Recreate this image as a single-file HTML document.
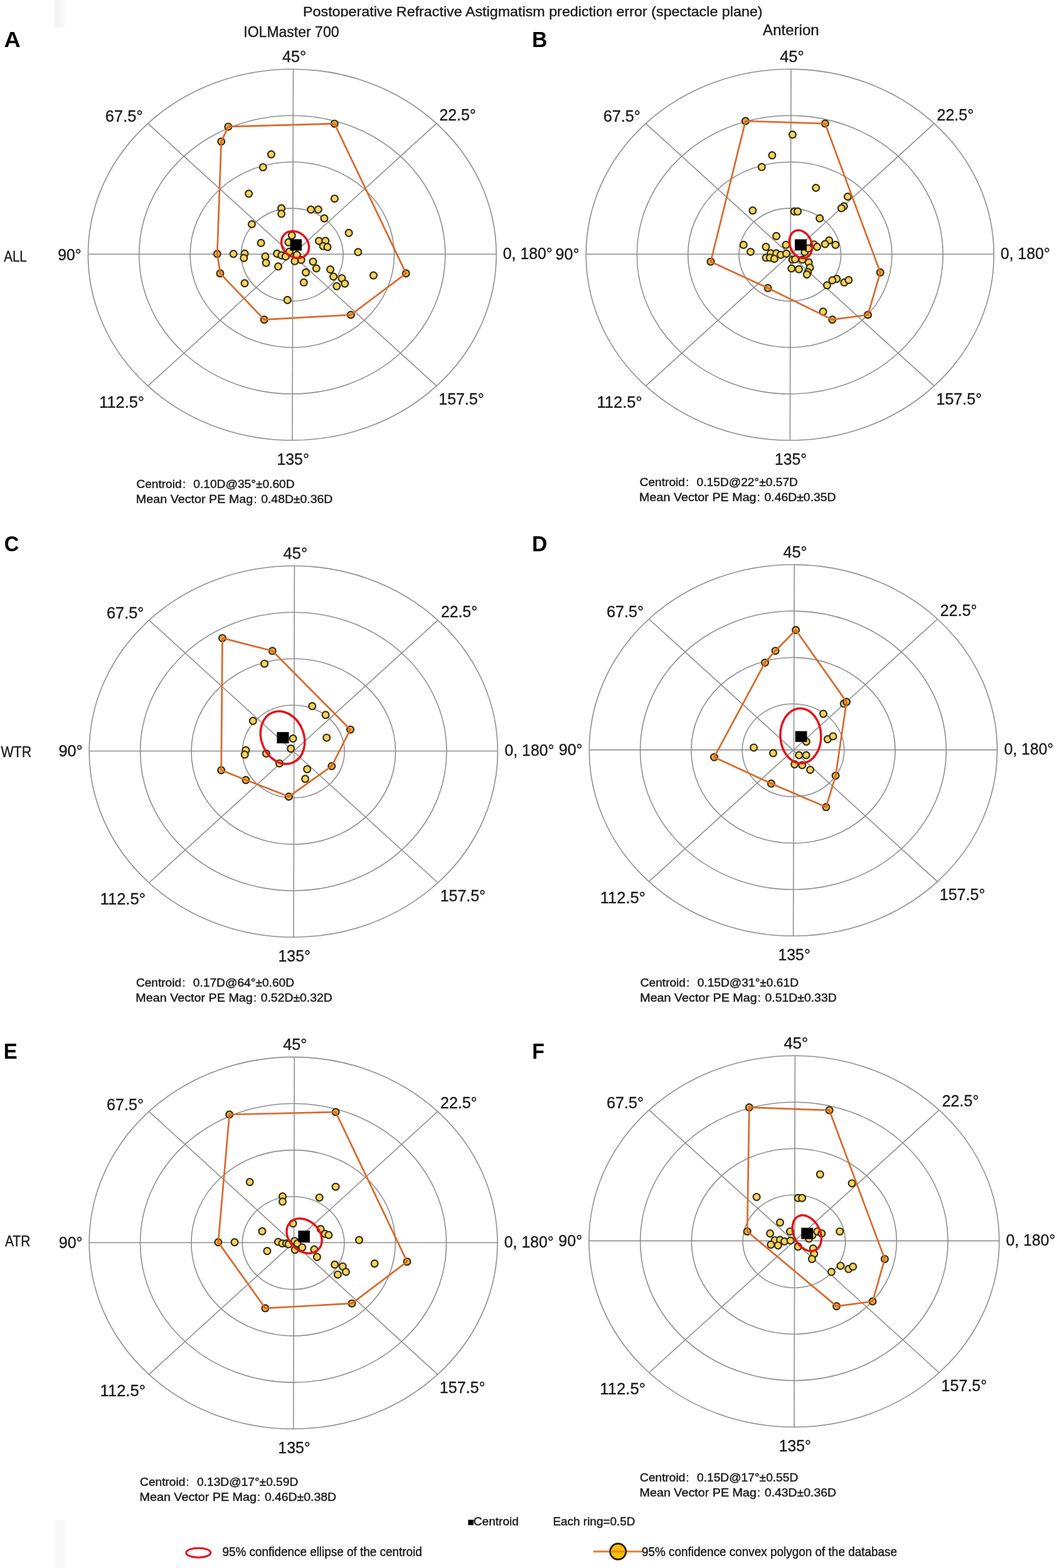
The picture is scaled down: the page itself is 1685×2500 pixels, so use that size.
<!DOCTYPE html><html><head><meta charset="utf-8"><style>html,body{margin:0;padding:0;background:#fff;overflow:hidden}svg{display:block}</style></head><body><svg width="1685" height="2500" viewBox="0 0 1685 2500">
<rect width="1685" height="2500" fill="#fff"/>
<rect x="86" y="0" width="17.3" height="43.8" fill="#f8f8f8"/>
<rect x="87.7" y="0" width="8" height="43.8" fill="#f3f3f3"/>
<rect x="88" y="2424" width="15.3" height="76" fill="#f8f8f8"/>
<g fill="none" stroke="#8f8f8f" stroke-width="1.6">
<ellipse cx="465.8" cy="406.1" rx="81.3" ry="74"/>
<ellipse cx="465.8" cy="406.1" rx="162.7" ry="147.9"/>
<ellipse cx="465.8" cy="406.1" rx="244" ry="221.9"/>
<ellipse cx="465.8" cy="406.1" rx="325.4" ry="295.9"/>
<line x1="140.4" y1="405.3" x2="791.2" y2="405.3"/>
<line x1="467.5" y1="110.2" x2="466" y2="702"/>
<line x1="235.7" y1="196.9" x2="695.9" y2="615.4"/>
<line x1="235.7" y1="615.4" x2="695.9" y2="196.9"/>
</g>
<g fill="#f6d45c" stroke="#332d12" stroke-width="2.15">
<circle cx="432.4" cy="246.1" r="5.45"/>
<circle cx="419.3" cy="266.7" r="5.45"/>
<circle cx="396.6" cy="308.8" r="5.45"/>
<circle cx="448.6" cy="332" r="5.45"/>
<circle cx="448.6" cy="340.8" r="5.45"/>
<circle cx="495.6" cy="334.1" r="5.45"/>
<circle cx="507.3" cy="334.1" r="5.45"/>
<circle cx="516.9" cy="348.1" r="5.45"/>
<circle cx="401.4" cy="357.5" r="5.45"/>
<circle cx="533.4" cy="316.7" r="5.45"/>
<circle cx="556.1" cy="371.4" r="5.45"/>
<circle cx="465.3" cy="375.3" r="5.45"/>
<circle cx="459.9" cy="386.4" r="5.45"/>
<circle cx="508.5" cy="384.2" r="5.45"/>
<circle cx="518.8" cy="384" r="5.45"/>
<circle cx="515.1" cy="392.3" r="5.45"/>
<circle cx="522" cy="393.9" r="5.45"/>
<circle cx="416.1" cy="387.4" r="5.45"/>
<circle cx="372.1" cy="404.8" r="5.45"/>
<circle cx="390" cy="404.4" r="5.45"/>
<circle cx="388.7" cy="411.4" r="5.45"/>
<circle cx="422.9" cy="408.9" r="5.45"/>
<circle cx="424.1" cy="419.1" r="5.45"/>
<circle cx="441.6" cy="404.4" r="5.45"/>
<circle cx="448.8" cy="407.1" r="5.45"/>
<circle cx="455.3" cy="409" r="5.45"/>
<circle cx="461.4" cy="401.3" r="5.45"/>
<circle cx="473.3" cy="406.3" r="5.45"/>
<circle cx="480.2" cy="414.3" r="5.45"/>
<circle cx="469.9" cy="416.3" r="5.45"/>
<circle cx="443.5" cy="424.8" r="5.45"/>
<circle cx="499" cy="417.2" r="5.45"/>
<circle cx="504.3" cy="428" r="5.45"/>
<circle cx="487.5" cy="434.4" r="5.45"/>
<circle cx="484.3" cy="450.3" r="5.45"/>
<circle cx="526.6" cy="429.6" r="5.45"/>
<circle cx="531.6" cy="441" r="5.45"/>
<circle cx="544.9" cy="443.6" r="5.45"/>
<circle cx="549.7" cy="452.2" r="5.45"/>
<circle cx="536.7" cy="456.3" r="5.45"/>
<circle cx="570.8" cy="401.9" r="5.45"/>
<circle cx="595.4" cy="439.1" r="5.45"/>
<circle cx="390" cy="451.6" r="5.45"/>
<circle cx="458.2" cy="478.4" r="5.45"/>
</g>
<g fill="#f0ad42" stroke="#332d12" stroke-width="2.15">
<circle cx="363.8" cy="201.9" r="5.45"/>
<circle cx="533.2" cy="197.2" r="5.45"/>
<circle cx="647.3" cy="435.9" r="5.45"/>
<circle cx="559.3" cy="502" r="5.45"/>
<circle cx="421.2" cy="509.6" r="5.45"/>
<circle cx="351" cy="435.9" r="5.45"/>
<circle cx="346.3" cy="404.8" r="5.45"/>
<circle cx="352.7" cy="225.7" r="5.45"/>
</g>
<polygon points="363.8,201.9 533.2,197.2 647.3,435.9 559.3,502 421.2,509.6 351,435.9 346.3,404.8 352.7,225.7" fill="none" stroke="#d9692a" stroke-width="2.7" stroke-linejoin="round"/>
<ellipse cx="0" cy="0" rx="23.8" ry="19.6" transform="translate(470.6 390) rotate(42)" fill="none" stroke="#e3141b" stroke-width="3.5"/>
<rect x="462.6" y="381.4" width="18.5" height="18.2" fill="#000"/>
<text x="449.9" y="98.5" font-size="24.9" font-family="Liberation Sans, Arial, sans-serif" fill="#1a1a1a" textLength="38.2" lengthAdjust="spacingAndGlyphs" stroke="#1a1a1a" stroke-width="0.35">45°</text>
<text x="441.4" y="740.8" font-size="24.9" font-family="Liberation Sans, Arial, sans-serif" fill="#1a1a1a" textLength="51.5" lengthAdjust="spacingAndGlyphs" stroke="#1a1a1a" stroke-width="0.35">135°</text>
<text x="167.8" y="194.4" font-size="24.9" font-family="Liberation Sans, Arial, sans-serif" fill="#1a1a1a" textLength="59.8" lengthAdjust="spacingAndGlyphs" stroke="#1a1a1a" stroke-width="0.35">67.5°</text>
<text x="700.5" y="191.5" font-size="24.9" font-family="Liberation Sans, Arial, sans-serif" fill="#1a1a1a" textLength="58.2" lengthAdjust="spacingAndGlyphs" stroke="#1a1a1a" stroke-width="0.35">22.5°</text>
<text x="158.2" y="650" font-size="24.9" font-family="Liberation Sans, Arial, sans-serif" fill="#1a1a1a" textLength="71.8" lengthAdjust="spacingAndGlyphs" stroke="#1a1a1a" stroke-width="0.35">112.5°</text>
<text x="699.3" y="645.2" font-size="24.9" font-family="Liberation Sans, Arial, sans-serif" fill="#1a1a1a" textLength="72.3" lengthAdjust="spacingAndGlyphs" stroke="#1a1a1a" stroke-width="0.35">157.5°</text>
<text x="92.2" y="414.5" font-size="24.9" font-family="Liberation Sans, Arial, sans-serif" fill="#1a1a1a" textLength="37.4" lengthAdjust="spacingAndGlyphs" stroke="#1a1a1a" stroke-width="0.35">90°</text>
<text x="801.8" y="412.8" font-size="24.9" font-family="Liberation Sans, Arial, sans-serif" fill="#1a1a1a" textLength="79" lengthAdjust="spacingAndGlyphs" stroke="#1a1a1a" stroke-width="0.35">0, 180°</text>
<text x="217.4" y="777.5" font-size="18.3" font-family="Liberation Sans, Arial, sans-serif" fill="#1a1a1a" textLength="72.2" lengthAdjust="spacingAndGlyphs" stroke="#1a1a1a" stroke-width="0.42">Centroid</text>
<text x="290.9" y="777.5" font-size="18.3" font-family="Liberation Sans, Arial, sans-serif" fill="#1a1a1a" stroke="#1a1a1a" stroke-width="0.3">:</text>
<text x="308.3" y="777.5" font-size="18.3" font-family="Liberation Sans, Arial, sans-serif" fill="#1a1a1a" textLength="161.3" lengthAdjust="spacingAndGlyphs" stroke="#1a1a1a" stroke-width="0.42">0.10D@35°±0.60D</text>
<text x="216.8" y="801.7" font-size="18.3" font-family="Liberation Sans, Arial, sans-serif" fill="#1a1a1a" textLength="186.5" lengthAdjust="spacingAndGlyphs" stroke="#1a1a1a" stroke-width="0.42">Mean Vector PE Mag</text>
<text x="404.4" y="801.7" font-size="18.3" font-family="Liberation Sans, Arial, sans-serif" fill="#1a1a1a" stroke="#1a1a1a" stroke-width="0.3">:</text>
<text x="416.2" y="801.7" font-size="18.3" font-family="Liberation Sans, Arial, sans-serif" fill="#1a1a1a" textLength="114.1" lengthAdjust="spacingAndGlyphs" stroke="#1a1a1a" stroke-width="0.42">0.48D±0.36D</text>
<g fill="none" stroke="#8f8f8f" stroke-width="1.6">
<ellipse cx="1259.3" cy="406.1" rx="81.3" ry="74"/>
<ellipse cx="1259.3" cy="406.1" rx="162.6" ry="147.9"/>
<ellipse cx="1259.3" cy="406.1" rx="243.9" ry="221.9"/>
<ellipse cx="1259.3" cy="406.1" rx="325.1" ry="295.9"/>
<line x1="934.2" y1="405.3" x2="1584.5" y2="405.3"/>
<line x1="1261" y1="110.2" x2="1259.4" y2="702"/>
<line x1="1029.4" y1="196.9" x2="1489.3" y2="615.4"/>
<line x1="1029.4" y1="615.4" x2="1489.3" y2="196.9"/>
</g>
<g fill="#f6d45c" stroke="#332d12" stroke-width="2.15">
<circle cx="1263.4" cy="214.6" r="5.45"/>
<circle cx="1230.9" cy="247.6" r="5.45"/>
<circle cx="1214.3" cy="266.3" r="5.45"/>
<circle cx="1300.7" cy="299.5" r="5.45"/>
<circle cx="1199.9" cy="335.6" r="5.45"/>
<circle cx="1266.3" cy="337.1" r="5.45"/>
<circle cx="1271.6" cy="337.1" r="5.45"/>
<circle cx="1306.7" cy="348.1" r="5.45"/>
<circle cx="1351.4" cy="313.5" r="5.45"/>
<circle cx="1345.3" cy="328.8" r="5.45"/>
<circle cx="1341.4" cy="332" r="5.45"/>
<circle cx="1237.6" cy="376.4" r="5.45"/>
<circle cx="1185.3" cy="390.4" r="5.45"/>
<circle cx="1221" cy="393.6" r="5.45"/>
<circle cx="1196.5" cy="401.5" r="5.45"/>
<circle cx="1252.9" cy="390.4" r="5.45"/>
<circle cx="1228.6" cy="403.8" r="5.45"/>
<circle cx="1237.6" cy="403.8" r="5.45"/>
<circle cx="1244.6" cy="406.3" r="5.45"/>
<circle cx="1253.5" cy="404.4" r="5.45"/>
<circle cx="1221" cy="410.8" r="5.45"/>
<circle cx="1227.3" cy="410.8" r="5.45"/>
<circle cx="1234.4" cy="412.7" r="5.45"/>
<circle cx="1263.1" cy="414" r="5.45"/>
<circle cx="1267.5" cy="413.3" r="5.45"/>
<circle cx="1279" cy="414" r="5.45"/>
<circle cx="1282.8" cy="401.9" r="5.45"/>
<circle cx="1288.6" cy="396.1" r="5.45"/>
<circle cx="1297.5" cy="389.7" r="5.45"/>
<circle cx="1302.6" cy="393.6" r="5.45"/>
<circle cx="1289.2" cy="418.4" r="5.45"/>
<circle cx="1291.1" cy="426.7" r="5.45"/>
<circle cx="1287.9" cy="433.8" r="5.45"/>
<circle cx="1286.3" cy="437.6" r="5.45"/>
<circle cx="1261.8" cy="428" r="5.45"/>
<circle cx="1273.5" cy="429.3" r="5.45"/>
<circle cx="1321.7" cy="383.4" r="5.45"/>
<circle cx="1315.3" cy="389.1" r="5.45"/>
<circle cx="1331.9" cy="390.4" r="5.45"/>
<circle cx="1333.8" cy="444.6" r="5.45"/>
<circle cx="1326.8" cy="446.9" r="5.45"/>
<circle cx="1318.5" cy="454.8" r="5.45"/>
<circle cx="1345.9" cy="450.3" r="5.45"/>
<circle cx="1352.9" cy="446.5" r="5.45"/>
<circle cx="1312.1" cy="496.9" r="5.45"/>
</g>
<g fill="#f0ad42" stroke="#332d12" stroke-width="2.15">
<circle cx="1188.4" cy="193" r="5.45"/>
<circle cx="1315.3" cy="197" r="5.45"/>
<circle cx="1403.3" cy="434.4" r="5.45"/>
<circle cx="1383.5" cy="502" r="5.45"/>
<circle cx="1326.8" cy="509.6" r="5.45"/>
<circle cx="1224.2" cy="459.3" r="5.45"/>
<circle cx="1133" cy="417.2" r="5.45"/>
</g>
<polygon points="1188.4,193 1315.3,197 1403.3,434.4 1383.5,502 1326.8,509.6 1224.2,459.3 1133,417.2" fill="none" stroke="#d9692a" stroke-width="2.7" stroke-linejoin="round"/>
<ellipse cx="0" cy="0" rx="23" ry="17.2" transform="translate(1276.5 389.4) rotate(67.3)" fill="none" stroke="#e3141b" stroke-width="3.5"/>
<rect x="1267.1" y="381.5" width="18.9" height="17.8" fill="#000"/>
<text x="1243.2" y="98.6" font-size="24.9" font-family="Liberation Sans, Arial, sans-serif" fill="#1a1a1a" textLength="38.5" lengthAdjust="spacingAndGlyphs" stroke="#1a1a1a" stroke-width="0.35">45°</text>
<text x="1234.9" y="740.8" font-size="24.9" font-family="Liberation Sans, Arial, sans-serif" fill="#1a1a1a" textLength="51.2" lengthAdjust="spacingAndGlyphs" stroke="#1a1a1a" stroke-width="0.35">135°</text>
<text x="961.7" y="194.4" font-size="24.9" font-family="Liberation Sans, Arial, sans-serif" fill="#1a1a1a" textLength="59.2" lengthAdjust="spacingAndGlyphs" stroke="#1a1a1a" stroke-width="0.35">67.5°</text>
<text x="1493.5" y="191.5" font-size="24.9" font-family="Liberation Sans, Arial, sans-serif" fill="#1a1a1a" textLength="58.8" lengthAdjust="spacingAndGlyphs" stroke="#1a1a1a" stroke-width="0.35">22.5°</text>
<text x="951.5" y="650" font-size="24.9" font-family="Liberation Sans, Arial, sans-serif" fill="#1a1a1a" textLength="72.3" lengthAdjust="spacingAndGlyphs" stroke="#1a1a1a" stroke-width="0.35">112.5°</text>
<text x="1492.5" y="645.2" font-size="24.9" font-family="Liberation Sans, Arial, sans-serif" fill="#1a1a1a" textLength="72.7" lengthAdjust="spacingAndGlyphs" stroke="#1a1a1a" stroke-width="0.35">157.5°</text>
<text x="885.5" y="414.4" font-size="24.9" font-family="Liberation Sans, Arial, sans-serif" fill="#1a1a1a" textLength="37.9" lengthAdjust="spacingAndGlyphs" stroke="#1a1a1a" stroke-width="0.35">90°</text>
<text x="1595" y="412.8" font-size="24.9" font-family="Liberation Sans, Arial, sans-serif" fill="#1a1a1a" textLength="79" lengthAdjust="spacingAndGlyphs" stroke="#1a1a1a" stroke-width="0.35">0, 180°</text>
<text x="1019.7" y="775.3" font-size="18.3" font-family="Liberation Sans, Arial, sans-serif" fill="#1a1a1a" textLength="72.2" lengthAdjust="spacingAndGlyphs" stroke="#1a1a1a" stroke-width="0.42">Centroid</text>
<text x="1093.2" y="775.3" font-size="18.3" font-family="Liberation Sans, Arial, sans-serif" fill="#1a1a1a" stroke="#1a1a1a" stroke-width="0.3">:</text>
<text x="1110.6" y="775.3" font-size="18.3" font-family="Liberation Sans, Arial, sans-serif" fill="#1a1a1a" textLength="161.3" lengthAdjust="spacingAndGlyphs" stroke="#1a1a1a" stroke-width="0.42">0.15D@22°±0.57D</text>
<text x="1019.1" y="799.4" font-size="18.3" font-family="Liberation Sans, Arial, sans-serif" fill="#1a1a1a" textLength="186.5" lengthAdjust="spacingAndGlyphs" stroke="#1a1a1a" stroke-width="0.42">Mean Vector PE Mag</text>
<text x="1206.7" y="799.4" font-size="18.3" font-family="Liberation Sans, Arial, sans-serif" fill="#1a1a1a" stroke="#1a1a1a" stroke-width="0.3">:</text>
<text x="1218.5" y="799.4" font-size="18.3" font-family="Liberation Sans, Arial, sans-serif" fill="#1a1a1a" textLength="114.1" lengthAdjust="spacingAndGlyphs" stroke="#1a1a1a" stroke-width="0.42">0.46D±0.35D</text>
<g fill="none" stroke="#8f8f8f" stroke-width="1.6">
<ellipse cx="467.8" cy="1198.2" rx="81.4" ry="74"/>
<ellipse cx="467.8" cy="1198.2" rx="162.8" ry="148"/>
<ellipse cx="467.8" cy="1198.2" rx="244.2" ry="222"/>
<ellipse cx="467.8" cy="1198.2" rx="325.6" ry="296"/>
<line x1="142.2" y1="1197.5" x2="793.4" y2="1197.5"/>
<line x1="469.4" y1="902.2" x2="468" y2="1494.2"/>
<line x1="237.6" y1="988.8" x2="698" y2="1407.5"/>
<line x1="237.6" y1="1407.5" x2="698" y2="988.8"/>
</g>
<g fill="#f6d45c" stroke="#332d12" stroke-width="2.15">
<circle cx="421.6" cy="1058.2" r="5.45"/>
<circle cx="497.7" cy="1125.8" r="5.45"/>
<circle cx="519.1" cy="1139.8" r="5.45"/>
<circle cx="403.3" cy="1149.3" r="5.45"/>
<circle cx="520.7" cy="1176.2" r="5.45"/>
<circle cx="467.1" cy="1177.5" r="5.45"/>
<circle cx="463.7" cy="1193.6" r="5.45"/>
<circle cx="391.9" cy="1196.1" r="5.45"/>
<circle cx="390.2" cy="1203.1" r="5.45"/>
<circle cx="424.4" cy="1201.5" r="5.45"/>
<circle cx="445.4" cy="1217.2" r="5.45"/>
<circle cx="489.7" cy="1226.4" r="5.45"/>
<circle cx="486.6" cy="1241.8" r="5.45"/>
</g>
<g fill="#f0ad42" stroke="#332d12" stroke-width="2.15">
<circle cx="354.5" cy="1017.4" r="5.45"/>
<circle cx="434.3" cy="1037.8" r="5.45"/>
<circle cx="558.5" cy="1163.2" r="5.45"/>
<circle cx="528.8" cy="1221.5" r="5.45"/>
<circle cx="460.4" cy="1270.1" r="5.45"/>
<circle cx="391.9" cy="1243.6" r="5.45"/>
<circle cx="352.7" cy="1228" r="5.45"/>
</g>
<polygon points="354.5,1017.4 434.3,1037.8 558.5,1163.2 528.8,1221.5 460.4,1270.1 391.9,1243.6 352.7,1228" fill="none" stroke="#d9692a" stroke-width="2.7" stroke-linejoin="round"/>
<ellipse cx="0" cy="0" rx="43.1" ry="33.9" transform="translate(450.5 1176) rotate(68.6)" fill="none" stroke="#e3141b" stroke-width="3.5"/>
<rect x="441.4" y="1167.2" width="19.1" height="18" fill="#000"/>
<text x="451.6" y="890.6" font-size="24.9" font-family="Liberation Sans, Arial, sans-serif" fill="#1a1a1a" textLength="38.5" lengthAdjust="spacingAndGlyphs" stroke="#1a1a1a" stroke-width="0.35">45°</text>
<text x="443.6" y="1532.7" font-size="24.9" font-family="Liberation Sans, Arial, sans-serif" fill="#1a1a1a" textLength="51.2" lengthAdjust="spacingAndGlyphs" stroke="#1a1a1a" stroke-width="0.35">135°</text>
<text x="169.9" y="986.4" font-size="24.9" font-family="Liberation Sans, Arial, sans-serif" fill="#1a1a1a" textLength="59.6" lengthAdjust="spacingAndGlyphs" stroke="#1a1a1a" stroke-width="0.35">67.5°</text>
<text x="702.9" y="983.6" font-size="24.9" font-family="Liberation Sans, Arial, sans-serif" fill="#1a1a1a" textLength="58.2" lengthAdjust="spacingAndGlyphs" stroke="#1a1a1a" stroke-width="0.35">22.5°</text>
<text x="159.6" y="1441.9" font-size="24.9" font-family="Liberation Sans, Arial, sans-serif" fill="#1a1a1a" textLength="72.3" lengthAdjust="spacingAndGlyphs" stroke="#1a1a1a" stroke-width="0.35">112.5°</text>
<text x="701.7" y="1437.1" font-size="24.9" font-family="Liberation Sans, Arial, sans-serif" fill="#1a1a1a" textLength="72.3" lengthAdjust="spacingAndGlyphs" stroke="#1a1a1a" stroke-width="0.35">157.5°</text>
<text x="93.4" y="1206.4" font-size="24.9" font-family="Liberation Sans, Arial, sans-serif" fill="#1a1a1a" textLength="38.2" lengthAdjust="spacingAndGlyphs" stroke="#1a1a1a" stroke-width="0.35">90°</text>
<text x="804.5" y="1204.6" font-size="24.9" font-family="Liberation Sans, Arial, sans-serif" fill="#1a1a1a" textLength="79" lengthAdjust="spacingAndGlyphs" stroke="#1a1a1a" stroke-width="0.35">0, 180°</text>
<text x="216.9" y="1572.5" font-size="18.3" font-family="Liberation Sans, Arial, sans-serif" fill="#1a1a1a" textLength="72.2" lengthAdjust="spacingAndGlyphs" stroke="#1a1a1a" stroke-width="0.42">Centroid</text>
<text x="290.4" y="1572.5" font-size="18.3" font-family="Liberation Sans, Arial, sans-serif" fill="#1a1a1a" stroke="#1a1a1a" stroke-width="0.3">:</text>
<text x="307.8" y="1572.5" font-size="18.3" font-family="Liberation Sans, Arial, sans-serif" fill="#1a1a1a" textLength="161.3" lengthAdjust="spacingAndGlyphs" stroke="#1a1a1a" stroke-width="0.42">0.17D@64°±0.60D</text>
<text x="216.3" y="1596.7" font-size="18.3" font-family="Liberation Sans, Arial, sans-serif" fill="#1a1a1a" textLength="186.5" lengthAdjust="spacingAndGlyphs" stroke="#1a1a1a" stroke-width="0.42">Mean Vector PE Mag</text>
<text x="403.9" y="1596.7" font-size="18.3" font-family="Liberation Sans, Arial, sans-serif" fill="#1a1a1a" stroke="#1a1a1a" stroke-width="0.3">:</text>
<text x="415.7" y="1596.7" font-size="18.3" font-family="Liberation Sans, Arial, sans-serif" fill="#1a1a1a" textLength="114.1" lengthAdjust="spacingAndGlyphs" stroke="#1a1a1a" stroke-width="0.42">0.52D±0.32D</text>
<g fill="none" stroke="#8f8f8f" stroke-width="1.6">
<ellipse cx="1264.5" cy="1196.3" rx="81.3" ry="74"/>
<ellipse cx="1264.5" cy="1196.3" rx="162.6" ry="148"/>
<ellipse cx="1264.5" cy="1196.3" rx="243.9" ry="222"/>
<ellipse cx="1264.5" cy="1196.3" rx="325.2" ry="296"/>
<line x1="939.2" y1="1195.6" x2="1589.7" y2="1195.6"/>
<line x1="1266.3" y1="900.3" x2="1264.6" y2="1492.3"/>
<line x1="1034.5" y1="987" x2="1494.4" y2="1405.6"/>
<line x1="1034.5" y1="1405.6" x2="1494.4" y2="987"/>
</g>
<g fill="#f6d45c" stroke="#332d12" stroke-width="2.15">
<circle cx="1312.5" cy="1138.1" r="5.45"/>
<circle cx="1201.6" cy="1191.9" r="5.45"/>
<circle cx="1232.5" cy="1200.8" r="5.45"/>
<circle cx="1285.4" cy="1182.4" r="5.45"/>
<circle cx="1273.7" cy="1204" r="5.45"/>
<circle cx="1285.1" cy="1204" r="5.45"/>
<circle cx="1266.7" cy="1218.6" r="5.45"/>
<circle cx="1278.7" cy="1220" r="5.45"/>
<circle cx="1291.6" cy="1227.4" r="5.45"/>
<circle cx="1319.4" cy="1178.6" r="5.45"/>
<circle cx="1328" cy="1173.9" r="5.45"/>
<circle cx="1345.2" cy="1121.8" r="5.45"/>
</g>
<g fill="#f0ad42" stroke="#332d12" stroke-width="2.15">
<circle cx="1268.6" cy="1004.5" r="5.45"/>
<circle cx="1349.5" cy="1119.1" r="5.45"/>
<circle cx="1332.1" cy="1236.7" r="5.45"/>
<circle cx="1316.9" cy="1286.8" r="5.45"/>
<circle cx="1229.4" cy="1249.3" r="5.45"/>
<circle cx="1138.5" cy="1207.2" r="5.45"/>
<circle cx="1219.5" cy="1056.5" r="5.45"/>
<circle cx="1236.1" cy="1037.7" r="5.45"/>
</g>
<polygon points="1268.6,1004.5 1349.5,1119.1 1332.1,1236.7 1316.9,1286.8 1229.4,1249.3 1138.5,1207.2 1219.5,1056.5 1236.1,1037.7" fill="none" stroke="#d9692a" stroke-width="2.7" stroke-linejoin="round"/>
<ellipse cx="0" cy="0" rx="32.4" ry="43.8" transform="translate(1276.4 1173.2) rotate(-2)" fill="none" stroke="#e3141b" stroke-width="3.5"/>
<rect x="1267.7" y="1165.7" width="18.8" height="17.2" fill="#000"/>
<text x="1248.5" y="888.6" font-size="24.9" font-family="Liberation Sans, Arial, sans-serif" fill="#1a1a1a" textLength="38.2" lengthAdjust="spacingAndGlyphs" stroke="#1a1a1a" stroke-width="0.35">45°</text>
<text x="1240.5" y="1531.1" font-size="24.9" font-family="Liberation Sans, Arial, sans-serif" fill="#1a1a1a" textLength="51.3" lengthAdjust="spacingAndGlyphs" stroke="#1a1a1a" stroke-width="0.35">135°</text>
<text x="966.9" y="984.4" font-size="24.9" font-family="Liberation Sans, Arial, sans-serif" fill="#1a1a1a" textLength="59.3" lengthAdjust="spacingAndGlyphs" stroke="#1a1a1a" stroke-width="0.35">67.5°</text>
<text x="1498.8" y="981.5" font-size="24.9" font-family="Liberation Sans, Arial, sans-serif" fill="#1a1a1a" textLength="58.8" lengthAdjust="spacingAndGlyphs" stroke="#1a1a1a" stroke-width="0.35">22.5°</text>
<text x="956.8" y="1440" font-size="24.9" font-family="Liberation Sans, Arial, sans-serif" fill="#1a1a1a" textLength="72.2" lengthAdjust="spacingAndGlyphs" stroke="#1a1a1a" stroke-width="0.35">112.5°</text>
<text x="1497.7" y="1435.2" font-size="24.9" font-family="Liberation Sans, Arial, sans-serif" fill="#1a1a1a" textLength="72.8" lengthAdjust="spacingAndGlyphs" stroke="#1a1a1a" stroke-width="0.35">157.5°</text>
<text x="890.7" y="1204.3" font-size="24.9" font-family="Liberation Sans, Arial, sans-serif" fill="#1a1a1a" textLength="37.9" lengthAdjust="spacingAndGlyphs" stroke="#1a1a1a" stroke-width="0.35">90°</text>
<text x="1600.7" y="1202.7" font-size="24.9" font-family="Liberation Sans, Arial, sans-serif" fill="#1a1a1a" textLength="78.7" lengthAdjust="spacingAndGlyphs" stroke="#1a1a1a" stroke-width="0.35">0, 180°</text>
<text x="1020.8" y="1572.5" font-size="18.3" font-family="Liberation Sans, Arial, sans-serif" fill="#1a1a1a" textLength="72.2" lengthAdjust="spacingAndGlyphs" stroke="#1a1a1a" stroke-width="0.42">Centroid</text>
<text x="1094.3" y="1572.5" font-size="18.3" font-family="Liberation Sans, Arial, sans-serif" fill="#1a1a1a" stroke="#1a1a1a" stroke-width="0.3">:</text>
<text x="1111.7" y="1572.5" font-size="18.3" font-family="Liberation Sans, Arial, sans-serif" fill="#1a1a1a" textLength="161.3" lengthAdjust="spacingAndGlyphs" stroke="#1a1a1a" stroke-width="0.42">0.15D@31°±0.61D</text>
<text x="1020.2" y="1596.7" font-size="18.3" font-family="Liberation Sans, Arial, sans-serif" fill="#1a1a1a" textLength="186.5" lengthAdjust="spacingAndGlyphs" stroke="#1a1a1a" stroke-width="0.42">Mean Vector PE Mag</text>
<text x="1207.8" y="1596.7" font-size="18.3" font-family="Liberation Sans, Arial, sans-serif" fill="#1a1a1a" stroke="#1a1a1a" stroke-width="0.3">:</text>
<text x="1219.6" y="1596.7" font-size="18.3" font-family="Liberation Sans, Arial, sans-serif" fill="#1a1a1a" textLength="114.1" lengthAdjust="spacingAndGlyphs" stroke="#1a1a1a" stroke-width="0.42">0.51D±0.33D</text>
<g fill="none" stroke="#8f8f8f" stroke-width="1.6">
<ellipse cx="467.6" cy="1981.8" rx="81.3" ry="74.1"/>
<ellipse cx="467.6" cy="1981.8" rx="162.7" ry="148.2"/>
<ellipse cx="467.6" cy="1981.8" rx="244" ry="222.3"/>
<ellipse cx="467.6" cy="1981.8" rx="325.4" ry="296.4"/>
<line x1="142.2" y1="1981.2" x2="793" y2="1981.2"/>
<line x1="469.3" y1="1685.4" x2="467.8" y2="2278.1"/>
<line x1="237.5" y1="1772.2" x2="697.7" y2="2191.3"/>
<line x1="237.5" y1="2191.3" x2="697.7" y2="1772.2"/>
</g>
<g fill="#f6d45c" stroke="#332d12" stroke-width="2.15">
<circle cx="398.2" cy="1884.6" r="5.45"/>
<circle cx="450.5" cy="1907.5" r="5.45"/>
<circle cx="450.5" cy="1915.8" r="5.45"/>
<circle cx="509.2" cy="1909.4" r="5.45"/>
<circle cx="535.1" cy="1892.2" r="5.45"/>
<circle cx="374" cy="1980.6" r="5.45"/>
<circle cx="418" cy="1963.1" r="5.45"/>
<circle cx="425.9" cy="1994.6" r="5.45"/>
<circle cx="443.5" cy="1980" r="5.45"/>
<circle cx="449.9" cy="1982.5" r="5.45"/>
<circle cx="456.3" cy="1982.5" r="5.45"/>
<circle cx="460.1" cy="1983.8" r="5.45"/>
<circle cx="467.1" cy="1950.6" r="5.45"/>
<circle cx="469.7" cy="1978.7" r="5.45"/>
<circle cx="474.1" cy="1982.5" r="5.45"/>
<circle cx="481.8" cy="1988.9" r="5.45"/>
<circle cx="470.3" cy="1992.7" r="5.45"/>
<circle cx="500.9" cy="1992.1" r="5.45"/>
<circle cx="505.4" cy="2004.2" r="5.45"/>
<circle cx="511.1" cy="1959.5" r="5.45"/>
<circle cx="518.1" cy="1967.2" r="5.45"/>
<circle cx="523.9" cy="1969.1" r="5.45"/>
<circle cx="572.5" cy="1977.1" r="5.45"/>
<circle cx="533.6" cy="2016.3" r="5.45"/>
<circle cx="546.3" cy="2019.2" r="5.45"/>
<circle cx="551.4" cy="2027.8" r="5.45"/>
<circle cx="538.4" cy="2032.2" r="5.45"/>
<circle cx="597.1" cy="2014.6" r="5.45"/>
</g>
<g fill="#f0ad42" stroke="#332d12" stroke-width="2.15">
<circle cx="365.7" cy="1777" r="5.45"/>
<circle cx="535.1" cy="1773" r="5.45"/>
<circle cx="649" cy="2011.6" r="5.45"/>
<circle cx="561" cy="2078.2" r="5.45"/>
<circle cx="422.9" cy="2085.8" r="5.45"/>
<circle cx="347.9" cy="1980.6" r="5.45"/>
</g>
<polygon points="365.7,1777 535.1,1773 649,2011.6 561,2078.2 422.9,2085.8 347.9,1980.6" fill="none" stroke="#d9692a" stroke-width="2.7" stroke-linejoin="round"/>
<ellipse cx="0" cy="0" rx="31.2" ry="24.1" transform="translate(485.1 1970.5) rotate(43.3)" fill="none" stroke="#e3141b" stroke-width="3.5"/>
<rect x="475.4" y="1962.1" width="18.5" height="18.5" fill="#000"/>
<text x="451.3" y="1673.8" font-size="24.9" font-family="Liberation Sans, Arial, sans-serif" fill="#1a1a1a" textLength="38.1" lengthAdjust="spacingAndGlyphs" stroke="#1a1a1a" stroke-width="0.35">45°</text>
<text x="443.3" y="2316.8" font-size="24.9" font-family="Liberation Sans, Arial, sans-serif" fill="#1a1a1a" textLength="51.5" lengthAdjust="spacingAndGlyphs" stroke="#1a1a1a" stroke-width="0.35">135°</text>
<text x="169.9" y="1770" font-size="24.9" font-family="Liberation Sans, Arial, sans-serif" fill="#1a1a1a" textLength="59.1" lengthAdjust="spacingAndGlyphs" stroke="#1a1a1a" stroke-width="0.35">67.5°</text>
<text x="702" y="1767" font-size="24.9" font-family="Liberation Sans, Arial, sans-serif" fill="#1a1a1a" textLength="58.6" lengthAdjust="spacingAndGlyphs" stroke="#1a1a1a" stroke-width="0.35">22.5°</text>
<text x="159.6" y="2225.7" font-size="24.9" font-family="Liberation Sans, Arial, sans-serif" fill="#1a1a1a" textLength="72.3" lengthAdjust="spacingAndGlyphs" stroke="#1a1a1a" stroke-width="0.35">112.5°</text>
<text x="700.8" y="2220.9" font-size="24.9" font-family="Liberation Sans, Arial, sans-serif" fill="#1a1a1a" textLength="72.7" lengthAdjust="spacingAndGlyphs" stroke="#1a1a1a" stroke-width="0.35">157.5°</text>
<text x="93.8" y="1990" font-size="24.9" font-family="Liberation Sans, Arial, sans-serif" fill="#1a1a1a" textLength="37.8" lengthAdjust="spacingAndGlyphs" stroke="#1a1a1a" stroke-width="0.35">90°</text>
<text x="803.8" y="1988.6" font-size="24.9" font-family="Liberation Sans, Arial, sans-serif" fill="#1a1a1a" textLength="79" lengthAdjust="spacingAndGlyphs" stroke="#1a1a1a" stroke-width="0.35">0, 180°</text>
<text x="223.1" y="2369.1" font-size="18.3" font-family="Liberation Sans, Arial, sans-serif" fill="#1a1a1a" textLength="72.2" lengthAdjust="spacingAndGlyphs" stroke="#1a1a1a" stroke-width="0.42">Centroid</text>
<text x="296.6" y="2369.1" font-size="18.3" font-family="Liberation Sans, Arial, sans-serif" fill="#1a1a1a" stroke="#1a1a1a" stroke-width="0.3">:</text>
<text x="314" y="2369.1" font-size="18.3" font-family="Liberation Sans, Arial, sans-serif" fill="#1a1a1a" textLength="161.3" lengthAdjust="spacingAndGlyphs" stroke="#1a1a1a" stroke-width="0.42">0.13D@17°±0.59D</text>
<text x="222.5" y="2393.2" font-size="18.3" font-family="Liberation Sans, Arial, sans-serif" fill="#1a1a1a" textLength="186.5" lengthAdjust="spacingAndGlyphs" stroke="#1a1a1a" stroke-width="0.42">Mean Vector PE Mag</text>
<text x="410.1" y="2393.2" font-size="18.3" font-family="Liberation Sans, Arial, sans-serif" fill="#1a1a1a" stroke="#1a1a1a" stroke-width="0.3">:</text>
<text x="421.9" y="2393.2" font-size="18.3" font-family="Liberation Sans, Arial, sans-serif" fill="#1a1a1a" textLength="114.1" lengthAdjust="spacingAndGlyphs" stroke="#1a1a1a" stroke-width="0.42">0.46D±0.38D</text>
<g fill="none" stroke="#8f8f8f" stroke-width="1.6">
<ellipse cx="1265.9" cy="1979.2" rx="81.8" ry="74"/>
<ellipse cx="1265.9" cy="1979.2" rx="163.5" ry="148"/>
<ellipse cx="1265.9" cy="1979.2" rx="245.2" ry="222"/>
<ellipse cx="1265.9" cy="1979.2" rx="327" ry="296"/>
<line x1="938.9" y1="1978.4" x2="1592.9" y2="1978.4"/>
<line x1="1267.4" y1="1683.2" x2="1266" y2="2275.2"/>
<line x1="1034.7" y1="1769.8" x2="1497.1" y2="2188.5"/>
<line x1="1034.7" y1="2188.5" x2="1497.1" y2="1769.8"/>
</g>
<g fill="#f6d45c" stroke="#332d12" stroke-width="2.15">
<circle cx="1307.3" cy="1872.4" r="5.45"/>
<circle cx="1206.1" cy="1908.4" r="5.45"/>
<circle cx="1272.2" cy="1910.1" r="5.45"/>
<circle cx="1278.6" cy="1910.1" r="5.45"/>
<circle cx="1243.5" cy="1949.1" r="5.45"/>
<circle cx="1358.1" cy="1886.7" r="5.45"/>
<circle cx="1227.6" cy="1966.6" r="5.45"/>
<circle cx="1259.5" cy="1963.4" r="5.45"/>
<circle cx="1235.2" cy="1977.4" r="5.45"/>
<circle cx="1243.5" cy="1976.8" r="5.45"/>
<circle cx="1250.5" cy="1979.3" r="5.45"/>
<circle cx="1260.1" cy="1978" r="5.45"/>
<circle cx="1228.9" cy="1984.4" r="5.45"/>
<circle cx="1240.3" cy="1985.7" r="5.45"/>
<circle cx="1272.2" cy="1987.6" r="5.45"/>
<circle cx="1289.5" cy="1974.8" r="5.45"/>
<circle cx="1295" cy="1969.4" r="5.45"/>
<circle cx="1302.9" cy="1963.4" r="5.45"/>
<circle cx="1309.9" cy="1966.6" r="5.45"/>
<circle cx="1296.3" cy="1990.5" r="5.45"/>
<circle cx="1297.8" cy="1999.1" r="5.45"/>
<circle cx="1294.4" cy="2007.4" r="5.45"/>
<circle cx="1325.4" cy="2027.8" r="5.45"/>
<circle cx="1338.7" cy="1963.4" r="5.45"/>
<circle cx="1340" cy="2018.2" r="5.45"/>
<circle cx="1352.7" cy="2023.3" r="5.45"/>
<circle cx="1359.7" cy="2019.5" r="5.45"/>
</g>
<g fill="#f0ad42" stroke="#332d12" stroke-width="2.15">
<circle cx="1194.4" cy="1765.6" r="5.45"/>
<circle cx="1322.1" cy="1770.2" r="5.45"/>
<circle cx="1410.4" cy="2007.4" r="5.45"/>
<circle cx="1391" cy="2075" r="5.45"/>
<circle cx="1333.6" cy="2082.6" r="5.45"/>
<circle cx="1191.2" cy="1963.4" r="5.45"/>
</g>
<polygon points="1194.4,1765.6 1322.1,1770.2 1410.4,2007.4 1391,2075 1333.6,2082.6 1191.2,1963.4" fill="none" stroke="#d9692a" stroke-width="2.7" stroke-linejoin="round"/>
<ellipse cx="0" cy="0" rx="30.3" ry="20.8" transform="translate(1286.3 1966.2) rotate(62.9)" fill="none" stroke="#e3141b" stroke-width="3.5"/>
<rect x="1277.3" y="1957.6" width="18.8" height="17.9" fill="#000"/>
<text x="1249.5" y="1671.6" font-size="24.9" font-family="Liberation Sans, Arial, sans-serif" fill="#1a1a1a" textLength="38.7" lengthAdjust="spacingAndGlyphs" stroke="#1a1a1a" stroke-width="0.35">45°</text>
<text x="1241.8" y="2314" font-size="24.9" font-family="Liberation Sans, Arial, sans-serif" fill="#1a1a1a" textLength="51.2" lengthAdjust="spacingAndGlyphs" stroke="#1a1a1a" stroke-width="0.35">135°</text>
<text x="966.9" y="1767.3" font-size="24.9" font-family="Liberation Sans, Arial, sans-serif" fill="#1a1a1a" textLength="59.3" lengthAdjust="spacingAndGlyphs" stroke="#1a1a1a" stroke-width="0.35">67.5°</text>
<text x="1501.7" y="1764.1" font-size="24.9" font-family="Liberation Sans, Arial, sans-serif" fill="#1a1a1a" textLength="58.7" lengthAdjust="spacingAndGlyphs" stroke="#1a1a1a" stroke-width="0.35">22.5°</text>
<text x="956.3" y="2222.8" font-size="24.9" font-family="Liberation Sans, Arial, sans-serif" fill="#1a1a1a" textLength="72.7" lengthAdjust="spacingAndGlyphs" stroke="#1a1a1a" stroke-width="0.35">112.5°</text>
<text x="1500.6" y="2218" font-size="24.9" font-family="Liberation Sans, Arial, sans-serif" fill="#1a1a1a" textLength="72.7" lengthAdjust="spacingAndGlyphs" stroke="#1a1a1a" stroke-width="0.35">157.5°</text>
<text x="890.3" y="1987.3" font-size="24.9" font-family="Liberation Sans, Arial, sans-serif" fill="#1a1a1a" textLength="37.9" lengthAdjust="spacingAndGlyphs" stroke="#1a1a1a" stroke-width="0.35">90°</text>
<text x="1603.8" y="1985.5" font-size="24.9" font-family="Liberation Sans, Arial, sans-serif" fill="#1a1a1a" textLength="78.5" lengthAdjust="spacingAndGlyphs" stroke="#1a1a1a" stroke-width="0.35">0, 180°</text>
<text x="1020.1" y="2362.2" font-size="18.3" font-family="Liberation Sans, Arial, sans-serif" fill="#1a1a1a" textLength="72.2" lengthAdjust="spacingAndGlyphs" stroke="#1a1a1a" stroke-width="0.42">Centroid</text>
<text x="1093.6" y="2362.2" font-size="18.3" font-family="Liberation Sans, Arial, sans-serif" fill="#1a1a1a" stroke="#1a1a1a" stroke-width="0.3">:</text>
<text x="1111" y="2362.2" font-size="18.3" font-family="Liberation Sans, Arial, sans-serif" fill="#1a1a1a" textLength="161.3" lengthAdjust="spacingAndGlyphs" stroke="#1a1a1a" stroke-width="0.42">0.15D@17°±0.55D</text>
<text x="1019.5" y="2386.3" font-size="18.3" font-family="Liberation Sans, Arial, sans-serif" fill="#1a1a1a" textLength="186.5" lengthAdjust="spacingAndGlyphs" stroke="#1a1a1a" stroke-width="0.42">Mean Vector PE Mag</text>
<text x="1207.1" y="2386.3" font-size="18.3" font-family="Liberation Sans, Arial, sans-serif" fill="#1a1a1a" stroke="#1a1a1a" stroke-width="0.3">:</text>
<text x="1218.9" y="2386.3" font-size="18.3" font-family="Liberation Sans, Arial, sans-serif" fill="#1a1a1a" textLength="114.1" lengthAdjust="spacingAndGlyphs" stroke="#1a1a1a" stroke-width="0.42">0.43D±0.36D</text>
<text x="6.4" y="75" font-size="35.6" font-family="Liberation Sans, Arial, sans-serif" fill="#000" font-weight="bold" textLength="26.2" lengthAdjust="spacingAndGlyphs">A</text>
<text x="848" y="74.6" font-size="35.6" font-family="Liberation Sans, Arial, sans-serif" fill="#000" font-weight="bold" textLength="24.5" lengthAdjust="spacingAndGlyphs">B</text>
<text x="6.7" y="878.7" font-size="35.6" font-family="Liberation Sans, Arial, sans-serif" fill="#000" font-weight="bold" textLength="23.5" lengthAdjust="spacingAndGlyphs">C</text>
<text x="848" y="878.8" font-size="35.6" font-family="Liberation Sans, Arial, sans-serif" fill="#000" font-weight="bold" textLength="24.4" lengthAdjust="spacingAndGlyphs">D</text>
<text x="5.8" y="1687.9" font-size="35.6" font-family="Liberation Sans, Arial, sans-serif" fill="#000" font-weight="bold" textLength="21.9" lengthAdjust="spacingAndGlyphs">E</text>
<text x="848.3" y="1687.9" font-size="35.6" font-family="Liberation Sans, Arial, sans-serif" fill="#000" font-weight="bold" textLength="19.7" lengthAdjust="spacingAndGlyphs">F</text>
<text x="6.3" y="416.6" font-size="23" font-family="Liberation Sans, Arial, sans-serif" fill="#1a1a1a" textLength="36.4" lengthAdjust="spacingAndGlyphs" stroke="#1a1a1a" stroke-width="0.35">ALL</text>
<text x="1.4" y="1206.6" font-size="23.4" font-family="Liberation Sans, Arial, sans-serif" fill="#1a1a1a" textLength="48.7" lengthAdjust="spacingAndGlyphs" stroke="#1a1a1a" stroke-width="0.35">WTR</text>
<text x="7.9" y="1987.3" font-size="23" font-family="Liberation Sans, Arial, sans-serif" fill="#1a1a1a" textLength="40.5" lengthAdjust="spacingAndGlyphs" stroke="#1a1a1a" stroke-width="0.35">ATR</text>
<text x="483" y="25.7" font-size="22" font-family="Liberation Sans, Arial, sans-serif" fill="#1a1a1a" textLength="732.6" lengthAdjust="spacingAndGlyphs" stroke="#1a1a1a" stroke-width="0.35">Postoperative Refractive Astigmatism prediction error (spectacle plane)</text>
<rect x="380" y="27.2" width="175" height="8" fill="#fff"/>
<text x="388.3" y="58.6" font-size="23.5" font-family="Liberation Sans, Arial, sans-serif" fill="#1a1a1a" textLength="152.2" lengthAdjust="spacingAndGlyphs" stroke="#1a1a1a" stroke-width="0.35">IOLMaster 700</text>
<text x="1216.1" y="55.7" font-size="23.4" font-family="Liberation Sans, Arial, sans-serif" fill="#1a1a1a" textLength="89.6" lengthAdjust="spacingAndGlyphs" stroke="#1a1a1a" stroke-width="0.35">Anterion</text>
<rect x="746.3" y="2423" width="8.6" height="8.6" fill="#000"/>
<text x="754.8" y="2431.6" font-size="18.2" font-family="Liberation Sans, Arial, sans-serif" fill="#1a1a1a" textLength="72.1" lengthAdjust="spacingAndGlyphs" stroke="#1a1a1a" stroke-width="0.42">Centroid</text>
<text x="881.4" y="2431.6" font-size="18.2" font-family="Liberation Sans, Arial, sans-serif" fill="#1a1a1a" textLength="131.1" lengthAdjust="spacingAndGlyphs" stroke="#1a1a1a" stroke-width="0.42">Each ring=0.5D</text>
<ellipse cx="316.3" cy="2475.7" rx="19.6" ry="7.5" fill="none" stroke="#e3141b" stroke-width="3"/>
<text x="354.4" y="2481.3" font-size="19.3" font-family="Liberation Sans, Arial, sans-serif" fill="#1a1a1a" textLength="318.4" lengthAdjust="spacingAndGlyphs" stroke="#1a1a1a" stroke-width="0.42">95% confidence ellipse of the centroid</text>
<line x1="945.9" y1="2473.8" x2="1024.5" y2="2473.8" stroke="#ef7d30" stroke-width="3"/>
<circle cx="985.2" cy="2473.8" r="12.6" fill="#f7bd0c" stroke="#1e1408" stroke-width="2.7"/>
<line x1="973.5" y1="2473.8" x2="997" y2="2473.8" stroke="#f3830f" stroke-width="2.8"/>
<text x="1023" y="2480.5" font-size="19.3" font-family="Liberation Sans, Arial, sans-serif" fill="#1a1a1a" textLength="407" lengthAdjust="spacingAndGlyphs" stroke="#1a1a1a" stroke-width="0.42">95% confidence convex polygon of the database</text>
</svg></body></html>
